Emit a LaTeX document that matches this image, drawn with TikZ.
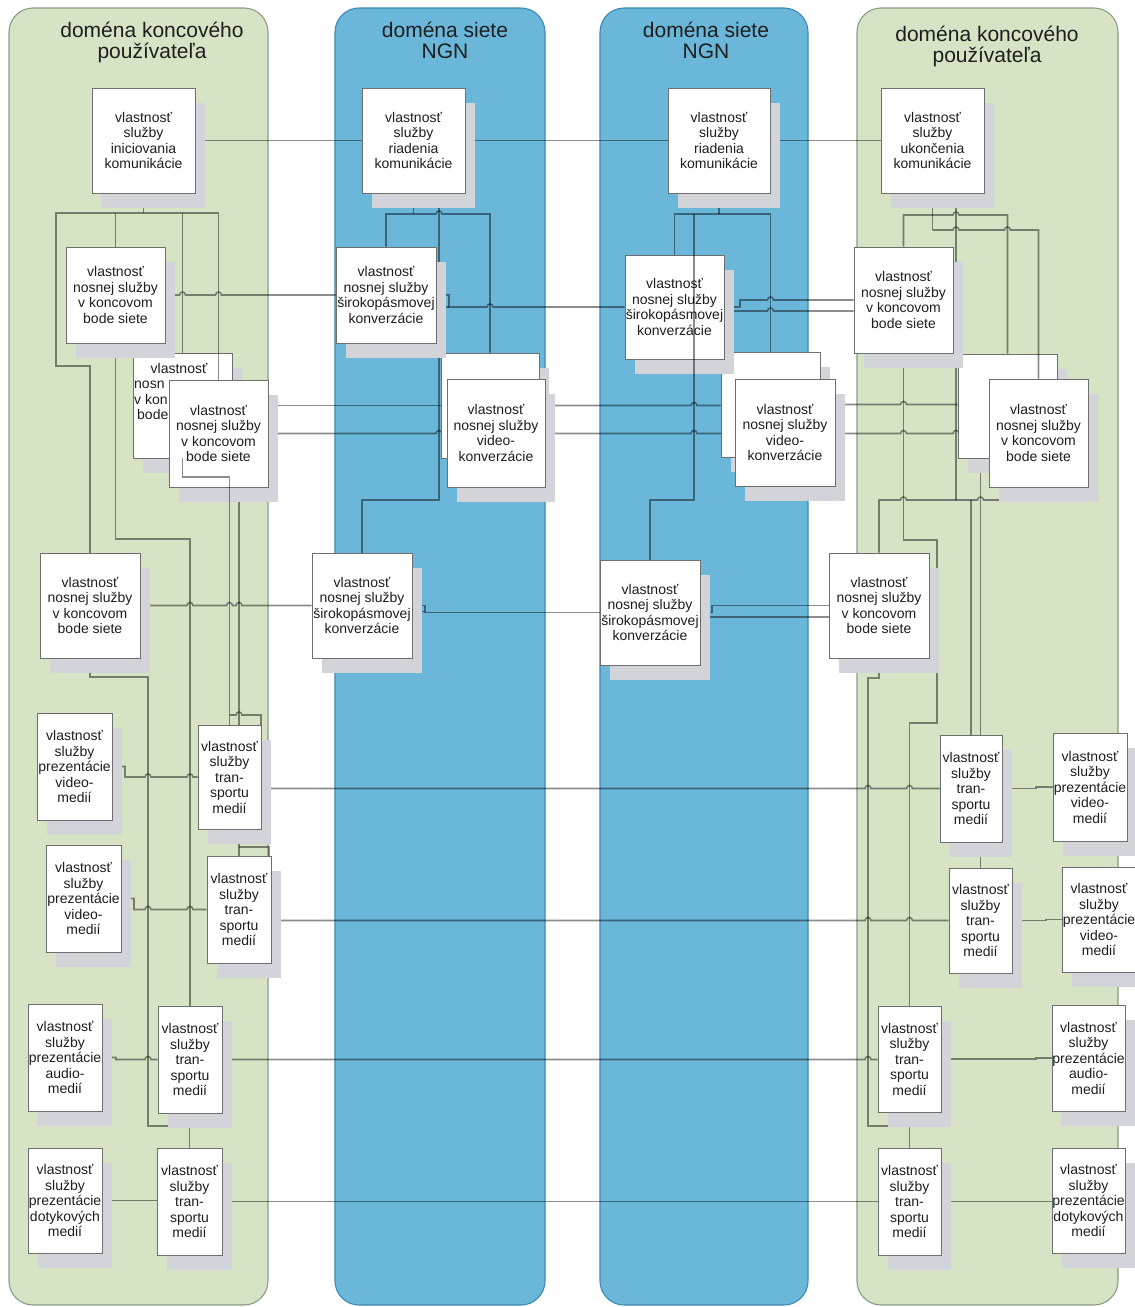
\documentclass[tikz,border=0pt]{standalone}
\usepackage{fontspec}
\setmainfont{Liberation Sans}
\usetikzlibrary{shadows}

\pgfdeclarelayer{bg}
\pgfdeclarelayer{lines}
\pgfdeclarelayer{top}
\pgfsetlayers{bg,lines,main,top}

\definecolor{panelgreen}{HTML}{D6E4C5}
\definecolor{panelgreenedge}{HTML}{8B9C84}
\definecolor{panelblue}{HTML}{6AB7DA}
\definecolor{panelblueedge}{HTML}{3F8AB2}
\definecolor{shadowgray}{HTML}{D2D4D9}
\definecolor{boxedge}{HTML}{6E6E6E}
\definecolor{inktext}{HTML}{1E1E1E}

\tikzset{
  panel/.style={rounded corners=24pt, line width=1.1pt},
  greenpanel/.style={panel, fill=panelgreen, draw=panelgreenedge},
  bluepanel/.style={panel, fill=panelblue, draw=panelblueedge},
  boxtext/.style={align=center, inner sep=0pt, text=inktext,
    font=\fontsize{14}{15.5}\selectfont},
  feature/.style={boxtext, draw=boxedge, line width=0.9pt, fill=white,
    drop shadow={shadow xshift=10pt, shadow yshift=-15pt, fill=shadowgray, opacity=1}},
  wire/.style={draw=black, draw opacity=0.45, line width=1.6pt},
  title/.style={align=center, inner sep=0pt, text=inktext,
    font=\fontsize{21}{21}\selectfont}
}

% a box given by its corners (x1,y1) (x2,y2), y measured downwards
\newcommand\feat[6]{%
  \node[feature, minimum width={(#4)-(#2)}, minimum height={(#5)-(#3)}]
    (#1) at ({((#2)+(#4))/2},{((#3)+(#5))/2}) {#6};}
% a small hop of a horizontal wire over a vertical one at x=#1, y=#2
\newcommand\hp[2]{-- ({#1-3},#2) arc[start angle=180, end angle=360, radius=3]}

\newcommand\tEnd{vlastnosť\\nosnej služby\\v koncovom\\bode siete}
\newcommand\tBroad{vlastnosť\\nosnej služby\\širokopásmovej\\konverzácie}
\newcommand\tVideoConv{vlastnosť\\nosnej služby\\video-\\konverzácie}
\newcommand\tTrans{vlastnosť\\služby\\tran-\\sportu\\medií}
\newcommand\tPresVideo{vlastnosť\\služby\\prezentácie\\video-\\medií}
\newcommand\tPresAudio{vlastnosť\\služby\\prezentácie\\audio-\\medií}
\newcommand\tPresTouch{vlastnosť\\služby\\prezentácie\\dotykových\\medií}

\begin{document}
\begin{tikzpicture}[x=1pt, y=-1pt]
\useasboundingbox (0,0) rectangle (1135,1307);

% domains
\begin{pgfonlayer}{bg}
  \fill[white] (0,0) rectangle (1135,1307);
  \draw[greenpanel] (9,8) rectangle (268,1305);
  \draw[bluepanel] (335,8) rectangle (545,1305);
  \draw[bluepanel] (600,8) rectangle (808,1305);
  \draw[greenpanel] (857,8) rectangle (1118,1305);
\end{pgfonlayer}

\node[title] (tUserL) at (152,42) {doména koncového\\používateľa};
\node[title] (tNgnL) at (445,40) {doména siete\\NGN};
\node[title] (tNgnR) at (706,40) {doména siete\\NGN};
\node[title] (tUserR) at (987,46) {doména koncového\\používateľa};

% boxes lying behind others
\feat{L3}{133}{353}{232}{458}{}
\node[boxtext] (L3a) at (179,368) {vlastnosť};
\node[boxtext, align=left, anchor=north west] (L3b) at (134,381)
  {nosn\\v kon\\\hspace*{3pt}bode};
\feat{B3}{441}{353}{539}{458}{}
\feat{B8}{721}{352}{820}{457}{}
\feat{R3}{958}{354}{1057}{458}{}

% left end-user domain
\feat{L1}{92}{88}{195}{193}{vlastnosť\\služby\\iniciovania\\komunikácie}
\feat{L2}{66}{247}{165}{343}{\tEnd}
\feat{L4}{169}{380}{268}{487}{\tEnd}
\feat{L5}{40}{553}{140}{658}{\tEnd}
\feat{L6}{37}{713}{112}{820}{\tPresVideo}
\feat{L7}{198}{725}{261}{829}{\tTrans}
\feat{L8}{46}{845}{121}{952}{\tPresVideo}
\feat{L9}{207}{856}{271}{963}{\tTrans}
\feat{L10}{28}{1004}{102}{1111}{\tPresAudio}
\feat{L11}{158}{1006}{222}{1113}{\tTrans}
\feat{L12}{28}{1148}{102}{1253}{\tPresTouch}
\feat{L13}{157}{1148}{222}{1255}{\tTrans}

% NGN domains
\feat{B1}{362}{88}{465}{193}{vlastnosť\\služby\\riadenia\\komunikácie}
\feat{B2}{336}{247}{436}{343}{\tBroad}
\feat{B4}{447}{379}{545}{487}{\tVideoConv}
\feat{B5}{312}{553}{412}{658}{\tBroad}
\feat{B6}{668}{88}{770}{193}{vlastnosť\\služby\\riadenia\\komunikácie}
\feat{B7}{625}{255}{724}{359}{\tBroad}
\feat{B9}{735}{379}{835}{486}{\tVideoConv}
\feat{B10}{600}{560}{700}{665}{\tBroad}

% right end-user domain
\feat{R1}{881}{88}{984}{193}{vlastnosť\\služby\\ukončenia\\komunikácie}
\feat{R2}{854}{247}{953}{353}{\tEnd}
\feat{R4}{989}{379}{1088}{487}{\tEnd}
\feat{R5}{829}{553}{929}{658}{\tEnd}
\feat{R6}{940}{735}{1002}{842}{\tTrans}
\feat{R7}{1053}{733}{1127}{841}{\tPresVideo}
\feat{R8}{949}{868}{1012}{973}{\tTrans}
\feat{R9}{1062}{867}{1136}{972}{\tPresVideo}
\feat{R10}{878}{1006}{941}{1112}{\tTrans}
\feat{R11}{1052}{1005}{1125}{1111}{\tPresAudio}
\feat{R12}{878}{1148}{941}{1255}{\tTrans}
\feat{R13}{1052}{1148}{1125}{1253}{\tPresTouch}

\begin{pgfonlayer}{lines}
  % communication control chain
  \draw[wire] (L1.east) -- (B1.west) (B1.east) -- (B6.west) (B6.east) -- (R1.west);
  % broadband bearer, upper row
  \draw[wire] (L2.east) \hp{182.5}{295} \hp{218.5}{295} -- (B2.west);
  \draw[wire] (B2.east) -- (449,295) -- (449,307) \hp{490}{307} -- (B7.west);
  \draw[wire] ([yshift=-12pt]B2.east) -- (449,307);
  \draw[wire] (B7.east) -- (740,307) -- (740,300) \hp{770.5}{300} -- (R2.west);
  \draw[wire] ([yshift=-4pt]B7.east) -- (740,311) \hp{770.5}{311} -- ([yshift=-11pt]R2.west);
  % video bearers
  \draw[wire] (L3.east) -- (B3.west);
  \draw[wire] (B3.east) \hp{694}{405.5} -- (B8.west |- B3.east);
  \draw[wire] (B8.east) \hp{903.5}{404.5} -- (R3.west |- B8.east);
  \draw[wire] (L4.east) \hp{439}{433.5} -- (B4.west |- L4.east);
  \draw[wire] (B4.east |- L4.east) \hp{694}{433.5} -- (B9.west |- L4.east);
  \draw[wire] (B9.east |- L4.east) \hp{903.5}{433.5} \hp{956}{433.5} -- (R4.west |- L4.east);
  % broadband bearer, lower row
  \draw[wire] (L5.east) \hp{190}{605.5} \hp{229.5}{605.5} \hp{239}{605.5} -- (B5.west);
  \draw[wire] (B5.east) -- (425,605.5) -- (425,612.5) -- (B10.west);
  \draw[wire] ([yshift=-6pt]B5.east) -- (425,611.5);
  \draw[wire] (B10.east) -- (712,612.5) -- (712,605.5) -- (R5.west);
  \draw[wire] ([yshift=-4.5pt]B10.east) -- ([yshift=-11.5pt]R5.west);
  % media transport
  \draw[wire] (L7.east |- R6.west) \hp{868}{788.5} \hp{909.5}{788.5} -- (R6.west);
  \draw[wire] (R6.east) -- (1036,788.5) -- (1036,787) -- (R7.west);
  \draw[wire] (L9.east |- R8.west) \hp{868}{920.5} \hp{909.5}{920.5} -- (R8.west);
  \draw[wire] (R8.east) -- (1046,920.5) -- (1046,919.5) -- (R9.west);
  \draw[wire] (L11.east) \hp{868}{1059.5} -- (R10.west |- L11.east);
  \draw[wire] (R10.east) -- (1036,1059) -- (1036,1058) -- (R11.west);
  \draw[wire] (L13.east) -- (R12.west |- L13.east);
  \draw[wire] (R12.east) -- (R13.west |- R12.east);
  % presentation to transport, left side
  \draw[wire] (L6.east) -- (125,766.5) -- (125,777) \hp{148}{777} \hp{190}{777} -- (L7.west);
  \draw[wire] (L8.east) -- (134,898.5) -- (134,909.5) \hp{148}{909.5} \hp{190}{909.5} -- (L9.west);
  \draw[wire] (L10.east) -- (116,1057.5) -- (116,1059.5) \hp{148}{1059.5} -- (L11.west);
  \draw[wire] (L12.east) -- (L13.west |- L12.east);

  % left tree
  \draw[wire] (L1.south) -- (143.5,213);
  \draw[wire] (L5.north) -- (90,366) -- (56,366) -- (56,213) -- (182.5,213);
  \draw[wire] (115.5,213) -- (L2.north);
  \draw[wire] (182.5,213) -- (L3.north);
  \draw[wire] (L2.south) -- (115.5,539) -- (190,539) -- (L11.north);
  \draw[wire] (L9.north |- L4.south) -- (L9.north);
  \draw[wire] (239,847) -- (269,847) -- (269,856);
  \draw[wire] (229.5,715) \hp{239}{715} -- (261,715) -- (261,725);
  \draw[wire] (L5.south) -- (90,677) -- (148,677) -- (148,1126) -- (189.5,1126) -- (L13.north);

  % NGN trees
  \draw[wire] (B1.south) -- (413.5,214);
  \draw[wire] (B2.north) -- (386,214) \hp{439}{214} -- (490,214) -- (B3.north);
  \draw[wire] (413.5,199) -- (439,199) -- (439,500) -- (362,500) -- (B5.north);
  \draw[wire] (B6.south) -- (719,214);
  \draw[wire] (B7.north) -- (674.5,214) -- (770.5,214) -- (B8.north);

  % right tree
  \draw[wire] (R2.north) -- (903.5,215) \hp{956}{215} -- (1007.5,215) -- (R3.north);
  \draw[wire] (R1.south) -- (932.5,230);
  \draw[wire] (932.5,200) -- (956,200) -- (956,500);
  \draw[wire] (R5.north) -- (879,500) \hp{903.5}{500} \hp{980.5}{500} -- (1038.5,500) -- (R4.south);
  \draw[wire] (971,500) -- (R6.north);
  \draw[wire] (R3.south -| R8.north) -- (R8.north);
  \draw[wire] (R2.south) -- (903.5,540) -- (937,540) -- (937,723) -- (909.5,723) -- (R10.north);
  \draw[wire] (R5.south) -- (879,678) -- (868,678) -- (868,1126) -- (909.5,1126) -- (R12.north);
\end{pgfonlayer}

% wires running across boxes
\begin{pgfonlayer}{top}
  \draw[wire] (182.5,213) -- (218.5,213) -- (L4.north);
  \draw[wire] (L3.south) -- (182.5,477) -- (229.5,477) -- (L7.north);
  \draw[wire] (694,214) -- (694,500) -- (650,500) -- (B10.north);
  \draw[wire] (932.5,230) \hp{956}{230} \hp{1007.5}{230} -- (1038.5,230) -- (R4.north);
\end{pgfonlayer}
\end{tikzpicture}
\end{document}
